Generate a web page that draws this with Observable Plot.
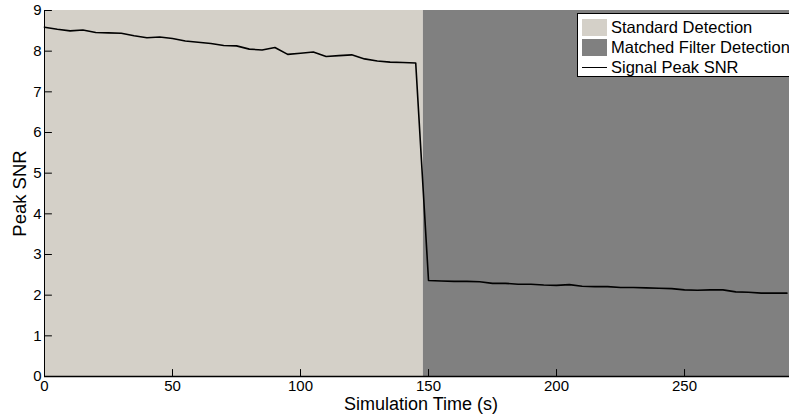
<!DOCTYPE html>
<html>
<head>
<meta charset="utf-8">
<script src="https://cdn.jsdelivr.net/npm/d3@7"></script>
<script src="https://cdn.jsdelivr.net/npm/@observablehq/plot@0.6"></script>
<style>
html, body { margin: 0; padding: 0; background: #fff; overflow: hidden; }
#wrap { position: relative; width: 789px; height: 414px; font-family: "Liberation Sans", Arial, Helvetica, sans-serif; }
#legend { position: absolute; left: 577px; top: 13px; width: 240px; height: 64px; background: #fff; border: 1px solid #000; box-sizing: border-box; }
.row { position: absolute; left: 4px; height: 20px; display: flex; align-items: center; font-size: 16.5px; color: #000; white-space: nowrap; }
.sw { width: 25px; height: 17px; margin-right: 4px; flex: none; }
.ln { width: 25px; height: 0; border-top: 1.6px solid #000; margin-right: 4px; flex: none; }
</style>
</head>
<body>
<div id="wrap"><div id="chart"></div><div id="legend"></div></div>
<script>
// ---- data ----
const times = [0,5,10,15,20,25,30,35,40,45,50,55,60,65,70,75,80,85,90,95,100,105,110,115,120,125,130,135,140,145,
               150,155,160,165,170,175,180,185,190,195,200,205,210,215,220,225,230,235,240,245,250,255,260,265,270,275,280,285,290];
const peakSNR = [8.59,8.54,8.50,8.52,8.46,8.45,8.44,8.38,8.33,8.35,8.31,8.25,8.22,8.19,8.14,8.13,8.05,8.03,8.09,7.92,7.95,7.98,7.87,7.89,7.91,7.81,7.76,7.73,7.72,7.71,
                 2.36,2.35,2.34,2.34,2.33,2.29,2.29,2.27,2.27,2.25,2.24,2.26,2.22,2.21,2.21,2.19,2.19,2.18,2.17,2.16,2.13,2.12,2.13,2.13,2.08,2.07,2.05,2.05,2.05];
const regionNames = ["Standard Detection", "Matched Filter Detection"];
const regionStart = [0, 148];
const regionEnd = [148, 291];
const regionColors = ["#d4d0c8", "#808080"];
const lineName = "Signal Peak SNR";
const xTicks = [0, 50, 100, 150, 200, 250];
const yTicks = [0, 1, 2, 3, 4, 5, 6, 7, 8, 9];
const xLabel = "Simulation Time (s)";
const yLabel = "Peak SNR";
const xDomain = [0, 291];
const yDomain = [0, 9];

const series = times.map((t, i) => ({t, v: peakSNR[i]}));
const regions = regionNames.map((name, i) => ({name, start: regionStart[i], end: regionEnd[i], color: regionColors[i]}));

// inward tick shape (plain line, no arrowhead)
const tickShape = {draw(context, l) { context.moveTo(0, 0); context.lineTo(0, -l); }};

const chart = Plot.plot({
  width: 789,
  height: 414,
  marginLeft: 44,
  marginRight: 0,
  marginTop: 10,
  marginBottom: 38,
  style: {fontFamily: '"Liberation Sans", Arial, Helvetica, sans-serif', fontSize: "15px", background: "transparent", color: "#000"},
  x: {domain: xDomain},
  y: {domain: yDomain},
  color: {type: "identity"},
  marks: [
    Plot.rect(regions, {x1: "start", x2: "end", y1: yDomain[0], y2: yDomain[1], fill: "color"}),
    Plot.line(series, {x: "t", y: "v", stroke: "#000", strokeWidth: 1.6}),
    Plot.ruleX([xDomain[0]], {stroke: "#000", strokeWidth: 1}),
    Plot.ruleY([yDomain[0]], {stroke: "#000", strokeWidth: 1.3}),
    // inward ticks
    Plot.vector(xTicks, {x: d => d, y: yDomain[0], length: 7, rotate: 0, anchor: "start", shape: tickShape, stroke: "#000", strokeWidth: 1}),
    Plot.vector(yTicks, {x: xDomain[0], y: d => d, length: 7, rotate: 90, anchor: "start", shape: tickShape, stroke: "#000", strokeWidth: 1}),
    // tick labels
    Plot.axisX(xTicks, {anchor: "bottom", tickSize: 0, tickPadding: 4, fontSize: 15, label: null}),
    Plot.axisY(yTicks, {anchor: "left", tickSize: 0, tickPadding: 3, fontSize: 15, label: null}),
    // axis titles
    Plot.text([xLabel], {frameAnchor: "bottom", dy: 33, dx: 4, lineAnchor: "bottom", textAnchor: "middle", fontSize: 18, fill: "#000"}),
    Plot.text([yLabel], {frameAnchor: "left", dx: -19, rotate: -90, lineAnchor: "bottom", textAnchor: "middle", fontSize: 18.5, fill: "#000"})
  ]
});
document.getElementById("chart").appendChild(chart);

// legend
const legend = document.getElementById("legend");
const items = regions.map(r => ({name: r.name, color: r.color, type: "rect"})).concat([{name: lineName, type: "line"}]);
items.forEach((it, i) => {
  const row = document.createElement("div");
  row.className = "row";
  row.style.top = (3 + i * 20) + "px";
  const sw = document.createElement("div");
  if (it.type === "rect") { sw.className = "sw"; sw.style.background = it.color; }
  else { sw.className = "ln"; }
  row.appendChild(sw);
  const tx = document.createElement("span");
  tx.textContent = it.name;
  row.appendChild(tx);
  legend.appendChild(row);
});
</script>
</body>
</html>
